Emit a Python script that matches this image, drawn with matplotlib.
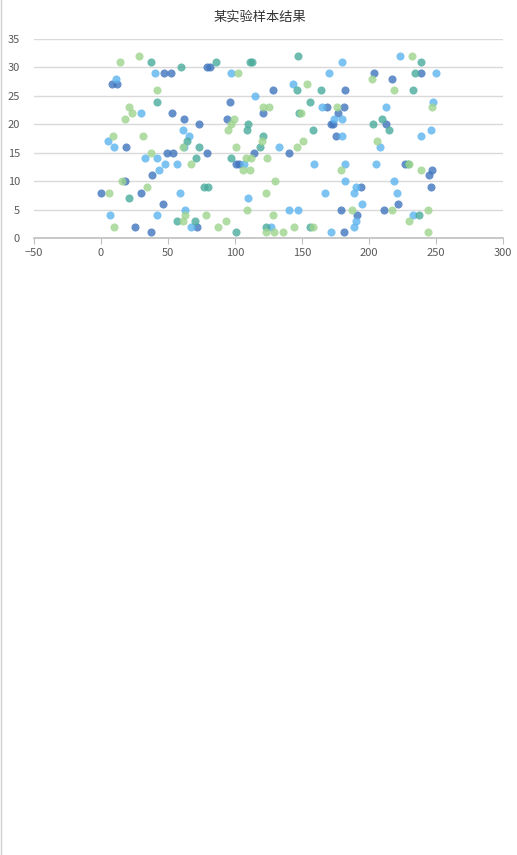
import matplotlib
matplotlib.use("Agg")
import matplotlib.pyplot as plt
from matplotlib.lines import Line2D

plt.rcParams['font.family'] = ['Noto Sans CJK SC', 'DejaVu Sans']

TITLE = "某实验样本结果"

# series A (dark blue)
a_x = [47, 52, 79, 81, 204, 239, 217, 8, 12, 128, 182, 96, 169, 181, 53, 121, 177, 62, 94,
       73, 172, 173, 213, 175, 19, 49, 54, 79, 114, 140, 101, 103, 227, 247, 38, 245, 18,
       194, 246, 0, 30, 46, 222, 179, 211, 191, 25, 72, 37, 181]
a_y = [29, 29, 30, 30, 29, 29, 28, 27, 27, 26, 26, 24, 23, 23, 22, 22, 22, 21, 21,
       20, 20, 20, 20, 18, 16, 15, 15, 15, 15, 15, 13, 13, 13, 12, 11, 11, 10,
       9, 9, 8, 8, 6, 6, 5, 5, 4, 2, 2, 1, 1]

# series B (light blue)
b_x = [223, 180, 40, 97, 170, 250, 11, 143, 115, 248, 165, 213, 30, 174, 180, 61, 246, 66,
       180, 239, 5, 10, 62, 133, 208, 33, 42, 48, 57, 107, 159, 182, 205, 43, 182, 219,
       190, 59, 167, 189, 221, 110, 195, 63, 140, 147, 7, 42, 233, 190, 67, 127, 189, 172]
b_y = [32, 31, 29, 29, 29, 29, 28, 27, 25, 24, 23, 23, 22, 21, 21, 19, 19, 18,
       18, 18, 17, 16, 16, 16, 16, 14, 14, 13, 13, 13, 13, 13, 13, 12, 10, 10,
       9, 8, 8, 8, 8, 7, 6, 5, 5, 5, 4, 4, 4, 3, 2, 2, 2, 1]

# series C (teal)
c_x = [147, 37, 86, 111, 113, 239, 60, 234, 146, 164, 233, 42, 156, 148, 210, 110, 203,
       109, 158, 215, 121, 64, 73, 119, 71, 97, 229, 77, 80, 21, 237, 57, 70, 123, 156, 101]
c_y = [32, 31, 31, 31, 31, 31, 30, 29, 26, 26, 26, 24, 24, 22, 21, 20, 20,
       19, 19, 19, 18, 17, 16, 16, 14, 14, 13, 9, 9, 7, 4, 3, 3, 2, 2, 1]

# series D (green)
d_x = [28, 232, 14, 102, 202, 154, 42, 219, 21, 121, 125, 176, 247, 23, 149, 18, 99, 97,
       95, 9, 31, 120, 151, 206, 61, 101, 146, 37, 108, 112, 124, 67, 230, 106, 111, 179,
       239, 16, 130, 34, 6, 123, 109, 187, 217, 244, 63, 78, 128, 61, 93, 230, 10, 87,
       144, 158, 123, 129, 136, 244]
d_y = [32, 32, 31, 29, 28, 27, 26, 26, 23, 23, 23, 23, 23, 22, 22, 21, 21, 20,
       19, 18, 18, 17, 17, 17, 16, 16, 16, 15, 14, 14, 14, 13, 13, 12, 12, 12,
       12, 10, 10, 9, 8, 8, 5, 5, 5, 5, 4, 4, 4, 3, 3, 3, 2, 2,
       2, 2, 1, 1, 1, 1]

X_TICKS = [-50, 0, 50, 100, 150, 200, 250, 300]
Y_TICKS = [0, 5, 10, 15, 20, 25, 30, 35]

fig = plt.figure(figsize=(5.17, 8.55), dpi=100)
ax = fig.add_axes([34 / 517, 1 - 238 / 855, 469 / 517, 199 / 855])

series = [
    (a_x, a_y, "#3f74bd"),
    (b_x, b_y, "#5cb4ee"),
    (c_x, c_y, "#4aab9b"),
    (d_x, d_y, "#9ed48e"),
]
for xs, ys, col in series:
    ax.scatter(xs, ys, s=34, color=col, alpha=0.8, linewidths=0, zorder=3)

ax.set_xlim(-50, 300)
ax.set_ylim(0, 35)
ax.set_xticks(X_TICKS)
ax.set_yticks(Y_TICKS)

ax.grid(axis="y", color="#d9d9d9", linewidth=1)
ax.set_axisbelow(True)
for side in ["top", "right", "left"]:
    ax.spines[side].set_visible(False)
ax.spines["bottom"].set_color("#bfbfbf")
ax.spines["bottom"].set_linewidth(1.2)
ax.spines["bottom"].set_zorder(2)

ax.tick_params(axis="x", direction="out", length=4, color="#bfbfbf",
               labelsize=8, labelcolor="#595959", pad=3)
ax.tick_params(axis="y", length=0, labelsize=8, labelcolor="#595959", pad=10)

fig.text(0.503, 1 - 17 / 855, TITLE, ha="center", va="center",
         fontsize=9.5, color="#333333")

# faint frame line at the left edge
fig.add_artist(Line2D([0.002, 0.002], [0, 1], transform=fig.transFigure,
                      color="#d0d0d0", linewidth=1))

fig.savefig("out.png", dpi=100, facecolor="white")
